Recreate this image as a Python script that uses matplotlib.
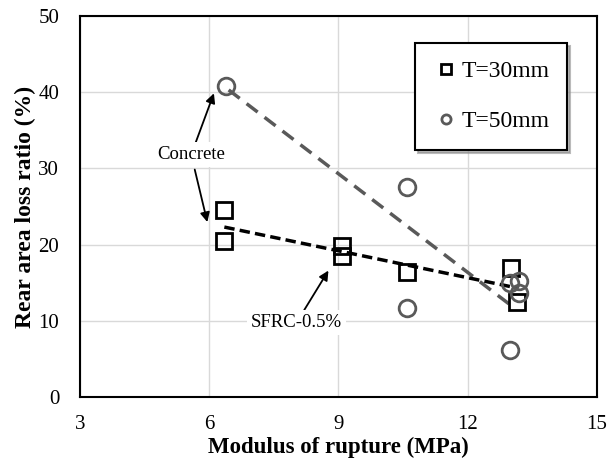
import matplotlib.pyplot as plt

plt.rcParams['font.family'] = ['Liberation Serif', 'DejaVu Serif']

# T=30mm specimens
mor_30 = [6.35, 6.35, 9.07, 9.07, 10.58, 13.0, 13.15]
loss_30 = [24.5, 20.5, 19.8, 18.5, 16.4, 16.9, 12.4]

# T=50mm specimens
mor_50 = [6.4, 10.58, 10.58, 12.98, 12.98, 13.18, 13.18]
loss_50 = [40.8, 27.5, 11.7, 6.2, 15.0, 15.2, 13.7]

# trend lines (end points)
trend_30_x = [6.35, 13.15]
trend_30_y = [22.3, 14.3]
trend_50_x = [6.45, 13.1]
trend_50_y = [40.3, 11.6]

xticks = [3, 6, 9, 12, 15]
yticks = [0, 10, 20, 30, 40, 50]

fig = plt.figure(figsize=(6.11, 4.72), dpi=100)
ax = fig.add_axes([0.131, 0.159, 0.846, 0.807])

ax.plot(trend_50_x, trend_50_y, ls=(0, (4, 2.5)), color='#595959', lw=2.5, zorder=2)
ax.plot(trend_30_x, trend_30_y, ls=(0, (3, 1.5)), color='black', lw=2.5, zorder=2)

ax.plot(mor_30, loss_30, 's', ms=12, mfc='none', mec='black', mew=2,
        label='T=30mm', zorder=3)
ax.plot(mor_50, loss_50, 'o', ms=12, mfc='none', mec='#595959', mew=2,
        label='T=50mm', zorder=3)

ax.set_xlim(3, 15)
ax.set_ylim(0, 50)
ax.set_xticks(xticks)
ax.set_yticks(yticks)
ax.tick_params(length=0, labelsize=15)
ax.tick_params(axis='x', pad=13)
ax.tick_params(axis='y', pad=15)
ax.grid(True, color='#d9d9d9', lw=1)
ax.set_axisbelow(True)
for s in ax.spines.values():
    s.set_linewidth(1.5)

ax.set_xlabel('Modulus of rupture (MPa)', fontsize=16.5, fontweight='bold', labelpad=2)
ax.set_ylabel('Rear area loss ratio (%)', fontsize=17, fontweight='bold', labelpad=2)

# annotations
bbox = dict(boxstyle='square,pad=0.2', fc='white', ec='none')
arrow = dict(arrowstyle='-|>', color='black', lw=1.3, mutation_scale=14, shrinkA=0)
ax.annotate('Concrete', xy=(6.13, 40.2), xytext=(5.58, 31.8), fontsize=13.5,
            ha='center', va='center', bbox=bbox, arrowprops=arrow)
ax.annotate('', xy=(5.97, 22.6), xytext=(5.58, 31.8),
            arrowprops=dict(arrow, shrinkA=11))
ax.annotate('SFRC-0.5%', xy=(8.8, 16.9), xytext=(8.03, 9.8), fontsize=13.5,
            ha='center', va='center', bbox=bbox, arrowprops=arrow)

leg = ax.legend(loc='upper right', bbox_to_anchor=(0.942, 0.929), fontsize=17,
                frameon=True, fancybox=False, edgecolor='black', facecolor='white',
                framealpha=1, shadow=dict(color='#8c8c8c', alpha=0.6),
                handlelength=1.1, handletextpad=0.1, markerscale=0.55,
                labelspacing=1.2, borderpad=0.75, borderaxespad=0)
leg.get_frame().set_linewidth(1.5)
leg.set_zorder(5)

fig.savefig('out.png', dpi=100)
